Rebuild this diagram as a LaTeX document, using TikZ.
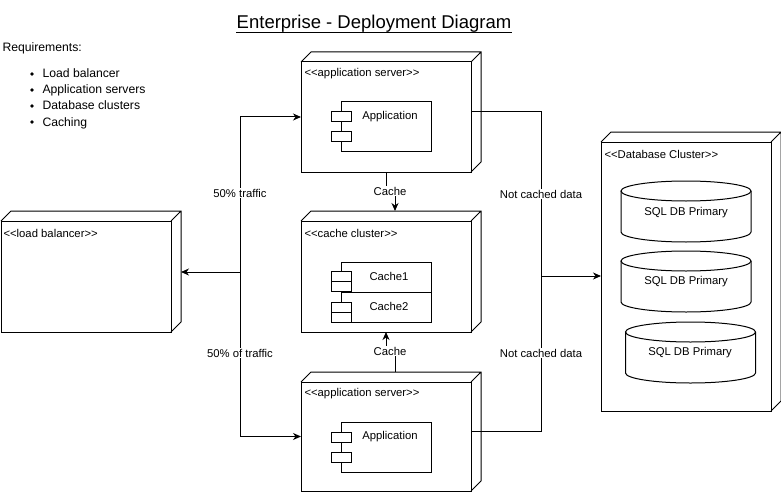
\documentclass[tikz,border=0pt]{standalone}
\usepackage{fontspec}
\setmainfont{Liberation Sans}
\usetikzlibrary{arrows.meta,calc}
\newcommand\ltlt{<\kern0pt<}
\newcommand\gtgt{>\kern0pt>}
\newcommand\depthbox[1]{%
  \draw (#1.north west) -- ++(10,-10) -- ($(#1.north east)+(10,-10)$) -- ($(#1.south east)+(10,-10)$) -- (#1.south east)
        (#1.north east) -- ++(10,-10);}
\newcommand\dbcyl[1]{%
  \draw ($(#1)+(-65,-20)$) -- ($(#1)+(-65,21)$) arc[start angle=180,end angle=360,x radius=65pt,y radius=10pt]
        -- ($(#1)+(65,-20)$);
  \draw ($(#1)+(0,-20)$) ellipse[x radius=65pt,y radius=10pt];}
\begin{document}
\begin{tikzpicture}[x=1pt,y=-1pt,line width=1pt,
  box3d/.style={draw,rectangle,inner sep=0pt,outer sep=0pt},
  comp/.style={draw,rectangle,inner sep=0pt,outer sep=0pt,minimum width=90pt},
  tabbox/.style={draw,fill=white,rectangle,inner sep=0pt,minimum width=20pt,minimum height=10pt},
  lbl/.style={font=\fontsize{11.3}{13}\selectfont,inner sep=1pt},
  tlbl/.style={lbl,yshift=-1.5pt},
  elabel/.style={lbl,fill=white},
  stereo/.style={tlbl,anchor=west},
  hand/.style={font=\fontsize{12.2}{14}\selectfont,anchor=base west,inner sep=0pt},
  arr/.style={-{Stealth[length=8pt,width=7pt,inset=2.5pt]}}]
\useasboundingbox (0,0) rectangle (781,492);

% title and requirements
\node[font=\fontsize{18.5}{22}\selectfont,anchor=base,inner sep=0pt] (title) at (374,29) {Enterprise - Deployment Diagram};
\draw[line width=0.9pt] ($(title.base west)+(0,3)$) -- ($(title.base east)+(0,3)$);
\node[hand] (req) at (2,52) {Requirements:};
\node[hand] (r1) at (42,78) {Load balancer};
\node[hand] (r2) at (42,94) {Application servers};
\node[hand] (r3) at (42,110) {Database clusters};
\node[hand] (r4) at (42,126) {Caching};
\foreach \yy in {74,90,106,122} \fill (32,\yy) circle[radius=1.8pt];

% application server 1
\node[box3d,minimum width=170pt,minimum height=110pt] (app1) at (386,117) {};
\depthbox{app1}
\node[stereo] (app1s) at (303,72) {\ltlt application server\gtgt};
\node[comp,minimum height=49pt] (comp1) at (386,126.5) {};
\node[tabbox] (t11) at (341,117) {};
\node[tabbox] (t12) at (341,136) {};
\node[tlbl] (comp1t) at (390,115) {Application};

% cache cluster
\node[box3d,minimum width=170pt,minimum height=111pt] (cc) at (386,276.5) {};
\depthbox{cc}
\node[stereo] (ccs) at (303,232) {\ltlt cache cluster\gtgt};
\node[comp,minimum height=30pt] (c1) at (386,277) {};
\node[comp,minimum height=30pt] (c2) at (386,307) {};
\node[tabbox] (t21) at (341,276) {};
\node[tabbox] (t22) at (341,286) {};
\node[tabbox] (t23) at (341,307) {};
\node[tabbox] (t24) at (341,317) {};
\node[tlbl] (c1t) at (389,275) {Cache1};
\node[tlbl] (c2t) at (389,305) {Cache2};

% application server 2
\node[box3d,minimum width=170pt,minimum height=109pt] (app2) at (386,436.5) {};
\depthbox{app2}
\node[stereo] (app2s) at (303,392) {\ltlt application server\gtgt};
\node[comp,minimum height=50pt] (comp2) at (386,447) {};
\node[tabbox] (t31) at (341,437) {};
\node[tabbox] (t32) at (341,457) {};
\node[tlbl] (comp2t) at (390,435) {Application};

% load balancer
\node[box3d,minimum width=170pt,minimum height=111pt] (lb) at (86,276.5) {};
\depthbox{lb}
\node[stereo] (lbs) at (2,232) {\ltlt load balancer\gtgt};

% database cluster
\node[box3d,minimum width=170pt,minimum height=269pt] (db) at (686,276.5) {};
\depthbox{db}
\node[stereo] (dbs) at (603,153) {\ltlt Database Cluster\gtgt};
\coordinate (cy1) at (686,211);
\coordinate (cy2) at (686,281);
\coordinate (cy3) at (690.5,352);
\dbcyl{cy1}
\dbcyl{cy2}
\dbcyl{cy3}
\node[tlbl] (db1) at (686,211) {SQL DB Primary};
\node[tlbl] (db2) at (686,280) {SQL DB Primary};
\node[tlbl] (db3) at (690,351) {SQL DB Primary};

% traffic connectors
\coordinate (J) at (240,272);
\coordinate (lbtip) at (181,272);
\draw[arr] (J) -- (lbtip);
\draw[arr] (J) |- (app1.west);
\draw[arr] (J) |- (app2.west);
\node[elabel] (l50a) at (240,193) {50\% traffic};
\node[elabel] (l50b) at (240,353) {50\% of traffic};

% cache connectors
\draw[arr] (app1.south) -- ++(0,19) -- ++(9,0) -- ($(cc.north)+(9,-10)$);
\node[elabel] (lc1) at (390,191) {Cache};
\draw[arr] ($(app2.north)+(9,-10)$) -- ++(0,-20) -- ++(-9,0) -- (cc.south);
\node[elabel] (lc2) at (390,351) {Cache};

% database connectors
\coordinate (K) at (541,276);
\draw ($(app1.east)+(0,-5)$) -| (K);
\draw ($(app2.east)+(0,-5)$) -| (K);
\draw[arr] (K) -- (db.west |- K);
\node[elabel] (nc1) at (541,194) {Not cached data};
\node[elabel] (nc2) at (541,353) {Not cached data};
\end{tikzpicture}
\end{document}
